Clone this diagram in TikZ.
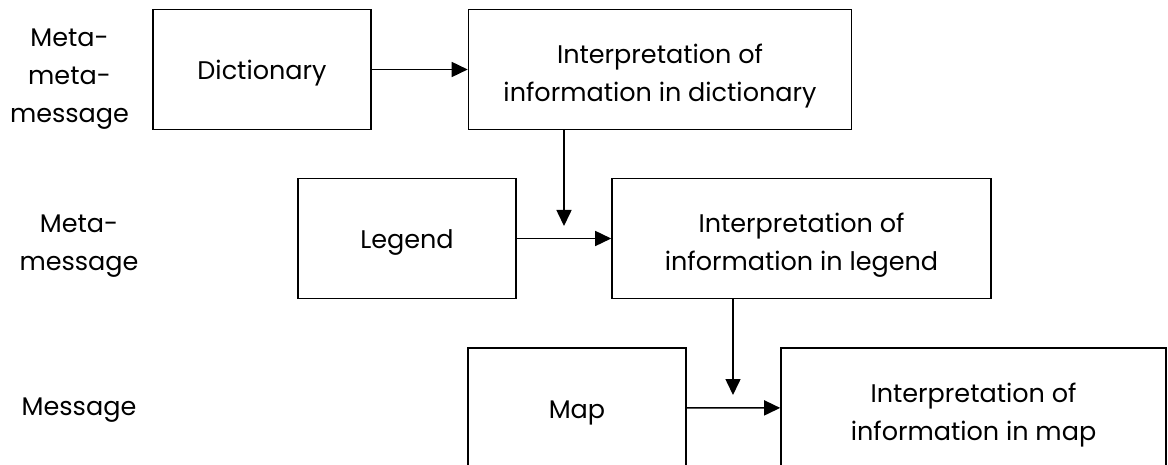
\documentclass[tikz,border=0pt]{standalone}
\usepackage{fontspec}
\setmainfont{Poppins}
\usetikzlibrary{arrows.meta}
% stacked lines, baseline on the first line
\newcommand{\lines}[1]{\begin{tabular}[t]{@{}c@{}}#1\end{tabular}}
\begin{document}
\begin{tikzpicture}[x=1pt,y=-1pt,
  txt/.style={font=\fontsize{25.5}{37.7}\selectfont},
  box/.style={txt,draw,line width=1.6pt,minimum height=120pt,inner sep=0pt},
  small/.style={box,minimum width=218pt,text height=27pt,text depth=6pt},
  wide/.style={box,minimum width=383pt,text height=20pt,text depth=31pt},
  side/.style={txt,anchor=base,inner sep=0pt},
  flow/.style={line width=1.6pt,-{Triangle[length=16pt,width=15pt]}}]
\useasboundingbox (0,0) rectangle (1168,465);
\clip (0,0) rectangle (1168,465);
% row labels
\node[side] (lab1) at (69.5,46.7) {\lines{Meta-\\meta-\\message}};
\node[side] (lab2) at (79,233) {\lines{Meta-\\message}};
\node[side] (lab3) at (79,415) {Message};
% top row
\node[small] (dict) at (262,69.5) {Dictionary};
\node[wide] (idict) at (660,69.5) {\lines{Interpretation of\\information in dictionary}};
% middle row
\node[small] (legend) at (407,238.5) {Legend};
\node[wide,minimum width=379pt] (ilegend) at (801.5,238.5) {\lines{Interpretation of\\information in legend}};
% bottom row
\node[small] (map) at (577,407.8) {Map};
\node[wide,minimum width=385pt] (imap) at (973.5,408) {\lines{Interpretation of\\information in map}};
% free ends of the downward connectors
\coordinate (d1) at (564,226);
\coordinate (d2) at (733,395);
% connectors
\draw[flow] (dict) -- (idict);
\draw[flow] (legend) -- (ilegend);
\draw[flow] (map) -- (imap);
\draw[flow] (idict.south -| d1) -- (d1);
\draw[flow] (ilegend.south -| d2) -- (d2);
\end{tikzpicture}
\end{document}
